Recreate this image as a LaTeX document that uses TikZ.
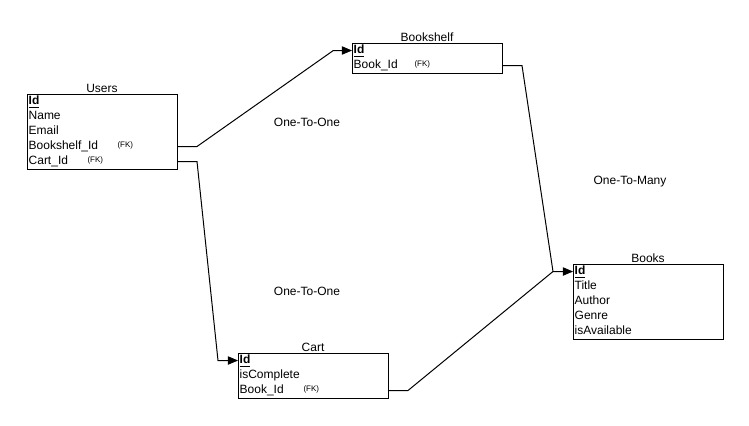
\documentclass[tikz,border=0pt]{standalone}
\usepackage{fontspec}
\setmainfont{Liberation Sans}
\usetikzlibrary{arrows}

\begin{document}
\begin{tikzpicture}[x = 0.75pt, y = -0.75pt, font = \fontsize{9}{10}\selectfont, line width = 0.75pt]
	\tikzstyle{rowStyle} = [anchor = north west, text width = 110pt, minimum height = 11.25pt, text height = 7pt, text depth = 2pt, inner xsep = 1.25pt, inner ysep = 0pt, outer sep = 0pt]
	\tikzstyle{titleStyle} = [anchor = south, inner sep = 1pt]
	\tikzstyle{fkStyle} = [anchor = west, inner sep = 0pt, font = \fontsize{6}{7}\selectfont]
	\tikzstyle{relStyle} = [-triangle 45]
	\tikzstyle{noteStyle} = [inner sep = 0pt]
	\useasboundingbox (0,0) rectangle (749,425);
	% Users
	\node[rowStyle] (u0) at (27,94) {\underline{\textbf{Id}}};
	\node[rowStyle] (u1) at (u0.south west) {Name};
	\node[rowStyle] (u2) at (u1.south west) {Email};
	\node[rowStyle] (u3) at (u2.south west) {Bookshelf\_Id};
	\node[rowStyle] (u4) at (u3.south west) {Cart\_Id};
	\node[fkStyle] (u3fk) at (117,145.5) {(FK)};
	\node[fkStyle] (u4fk) at (87,160.5) {(FK)};
	\draw (u0.north west) rectangle (u4.south east);
	\node[titleStyle] (usersTitle) at (u0.north) {Users};
	% Bookshelf
	\node[rowStyle] (s0) at (352,43) {\underline{\textbf{Id}}};
	\node[rowStyle] (s1) at (s0.south west) {Book\_Id};
	\node[fkStyle] (s1fk) at (414,64.5) {(FK)};
	\draw (s0.north west) rectangle (s1.south east);
	\node[titleStyle] (shelfTitle) at (s0.north) {Bookshelf};
	% Cart
	\node[rowStyle] (c0) at (238,353) {\underline{\textbf{Id}}};
	\node[rowStyle] (c1) at (c0.south west) {isComplete};
	\node[rowStyle] (c2) at (c1.south west) {Book\_Id};
	\node[fkStyle] (c2fk) at (303,389.5) {(FK)};
	\draw (c0.north west) rectangle (c2.south east);
	\node[titleStyle] (cartTitle) at (c0.north) {Cart};
	% Books
	\node[rowStyle] (k0) at (573,264) {\underline{\textbf{Id}}};
	\node[rowStyle] (k1) at (k0.south west) {Title};
	\node[rowStyle] (k2) at (k1.south west) {Author};
	\node[rowStyle] (k3) at (k2.south west) {Genre};
	\node[rowStyle] (k4) at (k3.south west) {isAvailable};
	\draw (k0.north west) rectangle (k4.south east);
	\node[titleStyle] (booksTitle) at (k0.north) {Books};
	% relations
	\coordinate (shelfIn) at ([xshift = -14pt]s0.west);
	\coordinate (cartIn) at ([xshift = -15pt]c0.west);
	\coordinate (booksIn) at ([xshift = -15pt]k0.west);
	\draw[relStyle] (u3.east) -- ++(20,0) -- (shelfIn) -- (s0.west);
	\draw[relStyle] (u4.east) -- ++(20,0) -- (cartIn) -- (c0.west);
	\draw[relStyle] (s1.east) -- ++(20,0) -- (booksIn) -- (k0.west);
	\draw (c2.east) -- ++(20,0) -- (booksIn);
	\node[noteStyle] (oneA) at (307,122) {One-To-One};
	\node[noteStyle] (oneB) at (307,291) {One-To-One};
	\node[noteStyle] (many) at (630,182) {One-To-Many};
\end{tikzpicture}
\end{document}
